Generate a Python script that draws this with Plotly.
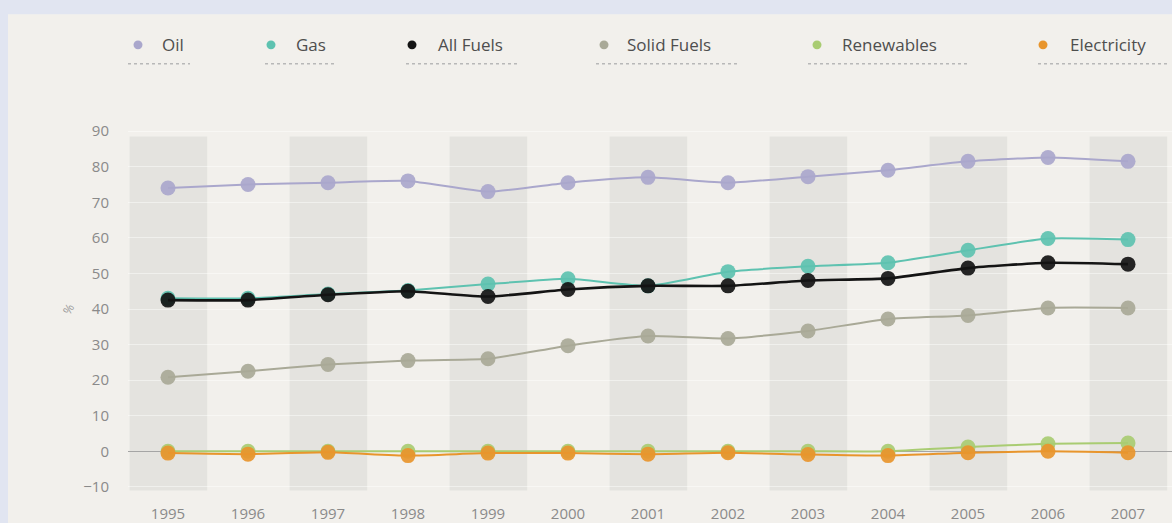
import plotly.graph_objects as go

years = [1995, 1996, 1997, 1998, 1999, 2000, 2001, 2002, 2003, 2004, 2005, 2006, 2007]
oil = [74, 75, 75.5, 76, 73, 75.5, 77, 75.5, 77.2, 79, 81.5, 82.6, 81.5]
gas = [43, 43, 44.2, 45.2, 47, 48.5, 46.5, 50.5, 52, 53, 56.5, 59.8, 59.5]
all_fuels = [42.5, 42.5, 44, 45, 43.5, 45.5, 46.5, 46.5, 48, 48.6, 51.5, 53, 52.6]
solid_fuels = [20.8, 22.5, 24.4, 25.5, 26, 29.7, 32.4, 31.7, 33.8, 37.2, 38.2, 40.3, 40.3]
renewables = [0, 0, 0, 0, 0, 0, 0, 0, 0, 0, 1.2, 2.1, 2.3]
electricity = [-0.5, -0.8, -0.3, -1.2, -0.5, -0.5, -0.8, -0.4, -0.9, -1.2, -0.4, 0, -0.4]

series_names = ["Oil", "Gas", "All Fuels", "Solid Fuels", "Renewables", "Electricity"]
series_values = [oil, gas, all_fuels, solid_fuels, renewables, electricity]
colors = ["#aaa7cc", "#5ec2b0", "#141414", "#a9a997", "#a9cc72", "#e8952c"]
widths = [2, 2, 2.6, 2, 2, 2]

y_ticks = [-10, 0, 10, 20, 30, 40, 50, 60, 70, 80, 90]
shaded_years = [1995, 1997, 1999, 2001, 2003, 2005, 2007]

W, H = 1172, 523
ML, MR, MT, MB = 128, 0, 124, 25
PW, PH = W - ML - MR, H - MT - MB


def px_x(px):
    return (px - ML) / PW


def px_y(py):
    return (H - MB - py) / PH


fig = go.Figure()
for name, vals, col, w in zip(series_names, series_values, colors, widths):
    fig.add_trace(go.Scatter(
        x=years, y=vals, name=name, mode="lines+markers",
        line=dict(color=col, width=w, shape="spline", smoothing=0.5),
        marker=dict(color=col, size=15, opacity=0.92),
        showlegend=False,
    ))

shapes = []
# cream panel over the blue page background
shapes.append(dict(type="rect", xref="paper", yref="paper",
                   x0=px_x(8), x1=1.01, y0=px_y(13), y1=-0.1,
                   fillcolor="#f2f0ec", line=dict(width=0), layer="below"))
for yr in shaded_years:
    shapes.append(dict(type="rect", xref="x", yref="y",
                       x0=yr - 0.48, x1=yr + 0.49, y0=-11, y1=88.5,
                       fillcolor="#e4e3df", line=dict(width=0), layer="below"))

# manual legend
legend_items = [
    (138, 160, 190, 128), (271, 294, 334, 265), (412, 436, 520, 406),
    (604, 625, 738, 596), (817, 840, 970, 808), (1043, 1068, 1168, 1038),
]
annotations = []
for (cx, tx, ux1, ux0), name, col in zip(legend_items, series_names, colors):
    r = 4.5
    shapes.append(dict(type="circle", xref="paper", yref="paper",
                       x0=px_x(cx - r), x1=px_x(cx + r),
                       y0=px_y(44 + r), y1=px_y(44 - r),
                       fillcolor=col, line=dict(width=0)))
    shapes.append(dict(type="line", xref="paper", yref="paper",
                       x0=px_x(ux0), x1=px_x(ux1), y0=px_y(63), y1=px_y(63),
                       line=dict(color="#b8b8b8", width=1.5, dash="dot")))
    annotations.append(dict(xref="paper", yref="paper", x=px_x(tx), y=px_y(44),
                            text=name, showarrow=False, xanchor="left", yanchor="middle",
                            font=dict(family="Open Sans", size=17, color="#4e4e4e")))

annotations.append(dict(xref="paper", yref="y", x=px_x(55), y=40, text="%",
                        showarrow=False, textangle=-60,
                        font=dict(family="Open Sans", size=12, color="#9a9a9a")))

fig.update_layout(
    width=W, height=H,
    margin=dict(l=ML, r=MR, t=MT, b=MB),
    paper_bgcolor="#e1e5f1",
    plot_bgcolor="rgba(0,0,0,0)",
    shapes=shapes,
    annotations=annotations,
    xaxis=dict(range=[1994.5, 2007.55], tickmode="array", tickvals=years,
               ticktext=[str(y) for y in years], showgrid=False, zeroline=False,
               showline=False, ticks="", ticklabelstandoff=9,
               tickfont=dict(family="Open Sans", size=15, color="#8a8a8a")),
    yaxis=dict(range=[-12, 92], tickmode="array", tickvals=y_ticks,
               showgrid=True, gridcolor="rgba(255,255,255,0.45)", gridwidth=1,
               zeroline=True, zerolinecolor="#a5a5a5", zerolinewidth=1,
               showline=False, ticks="", ticklabelstandoff=18,
               tickfont=dict(family="Open Sans", size=15, color="#8a8a8a")),
)

fig.write_html(
    "out.html",
    config={"displayModeBar": False},
    post_script="document.body.style.margin='0';document.body.style.overflow='hidden';"
                "document.body.style.background='#e1e5f1';",
)
